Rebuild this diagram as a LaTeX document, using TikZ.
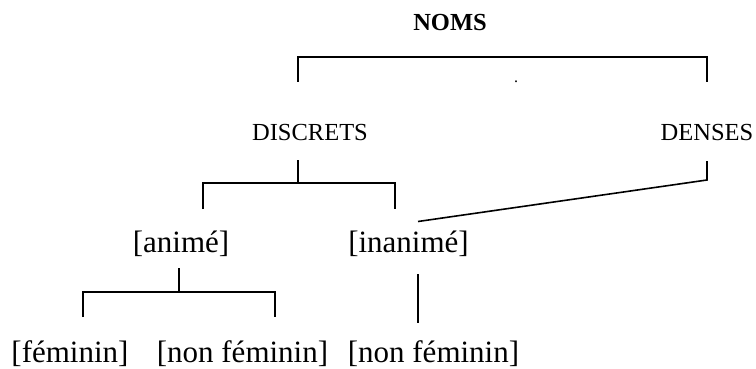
\documentclass[tikz,border=0pt]{standalone}
\usepackage{fontspec}
\setmainfont{Liberation Serif}
\begin{document}
\begin{tikzpicture}[x=1pt,y=-1pt,
  caps/.style={anchor=base,inner sep=0pt,font=\fontsize{24.5}{28}\selectfont},
  feat/.style={anchor=base,inner sep=0pt,font=\fontsize{31}{36}\selectfont},
  conn/.style={line width=1.6pt,line cap=butt,line join=miter}]
\useasboundingbox (0,0) rectangle (756,369);
% texts
\node[caps,font=\fontsize{24.5}{28}\selectfont\bfseries] (noms) at (450,31) {NOMS};
\node[caps] (discrets) at (310,141) {DISCRETS};
\node[caps] (denses) at (707,141) {DENSES};
\node[feat] (anime) at (181,252.5) {[animé]};
\node[feat] (inanime) at (408.5,252.5) {[inanimé]};
\node[feat] (fem) at (70,362) {[féminin]};
\node[feat] (nonfem) at (242.5,362) {[non féminin]};
\node[feat] (nonfemb) at (433.5,362) {[non féminin]};
\node[caps,font=\fontsize{16}{18}\selectfont] (dot) at (516,83) {.};
% bracket under NOMS
\coordinate (t1) at (298,57);
\coordinate (t2) at (707,57);
\coordinate (t1b) at (298,82);
\coordinate (t2b) at (707,82);
\draw[conn] (t1b) -- (t1) -- (t2) -- (t2b);
% DISCRETS bracket
\coordinate (d0) at (298,160);
\coordinate (d1) at (298,183);
\coordinate (dl) at (203,183);
\coordinate (dr) at (395,183);
\coordinate (dlb) at (203,209);
\coordinate (drb) at (395,209);
\draw[conn] (d0) -- (d1);
\draw[conn] (dlb) -- (dl) -- (dr) -- (drb);
% DENSES link
\coordinate (e0) at (707,161);
\coordinate (e1) at (707,180);
\coordinate (e2) at (418,221.5);
\draw[conn] (e0) -- (e1) -- (e2);
% anime bracket
\coordinate (a0) at (179,268);
\coordinate (a1) at (179,292);
\coordinate (al) at (83,292);
\coordinate (ar) at (275,292);
\coordinate (alb) at (83,317);
\coordinate (arb) at (275,317);
\draw[conn] (a0) -- (a1);
\draw[conn] (alb) -- (al) -- (ar) -- (arb);
% inanime link
\coordinate (i0) at (418,274);
\coordinate (i1) at (418,323);
\draw[conn] (i0) -- (i1);
\end{tikzpicture}
\end{document}
